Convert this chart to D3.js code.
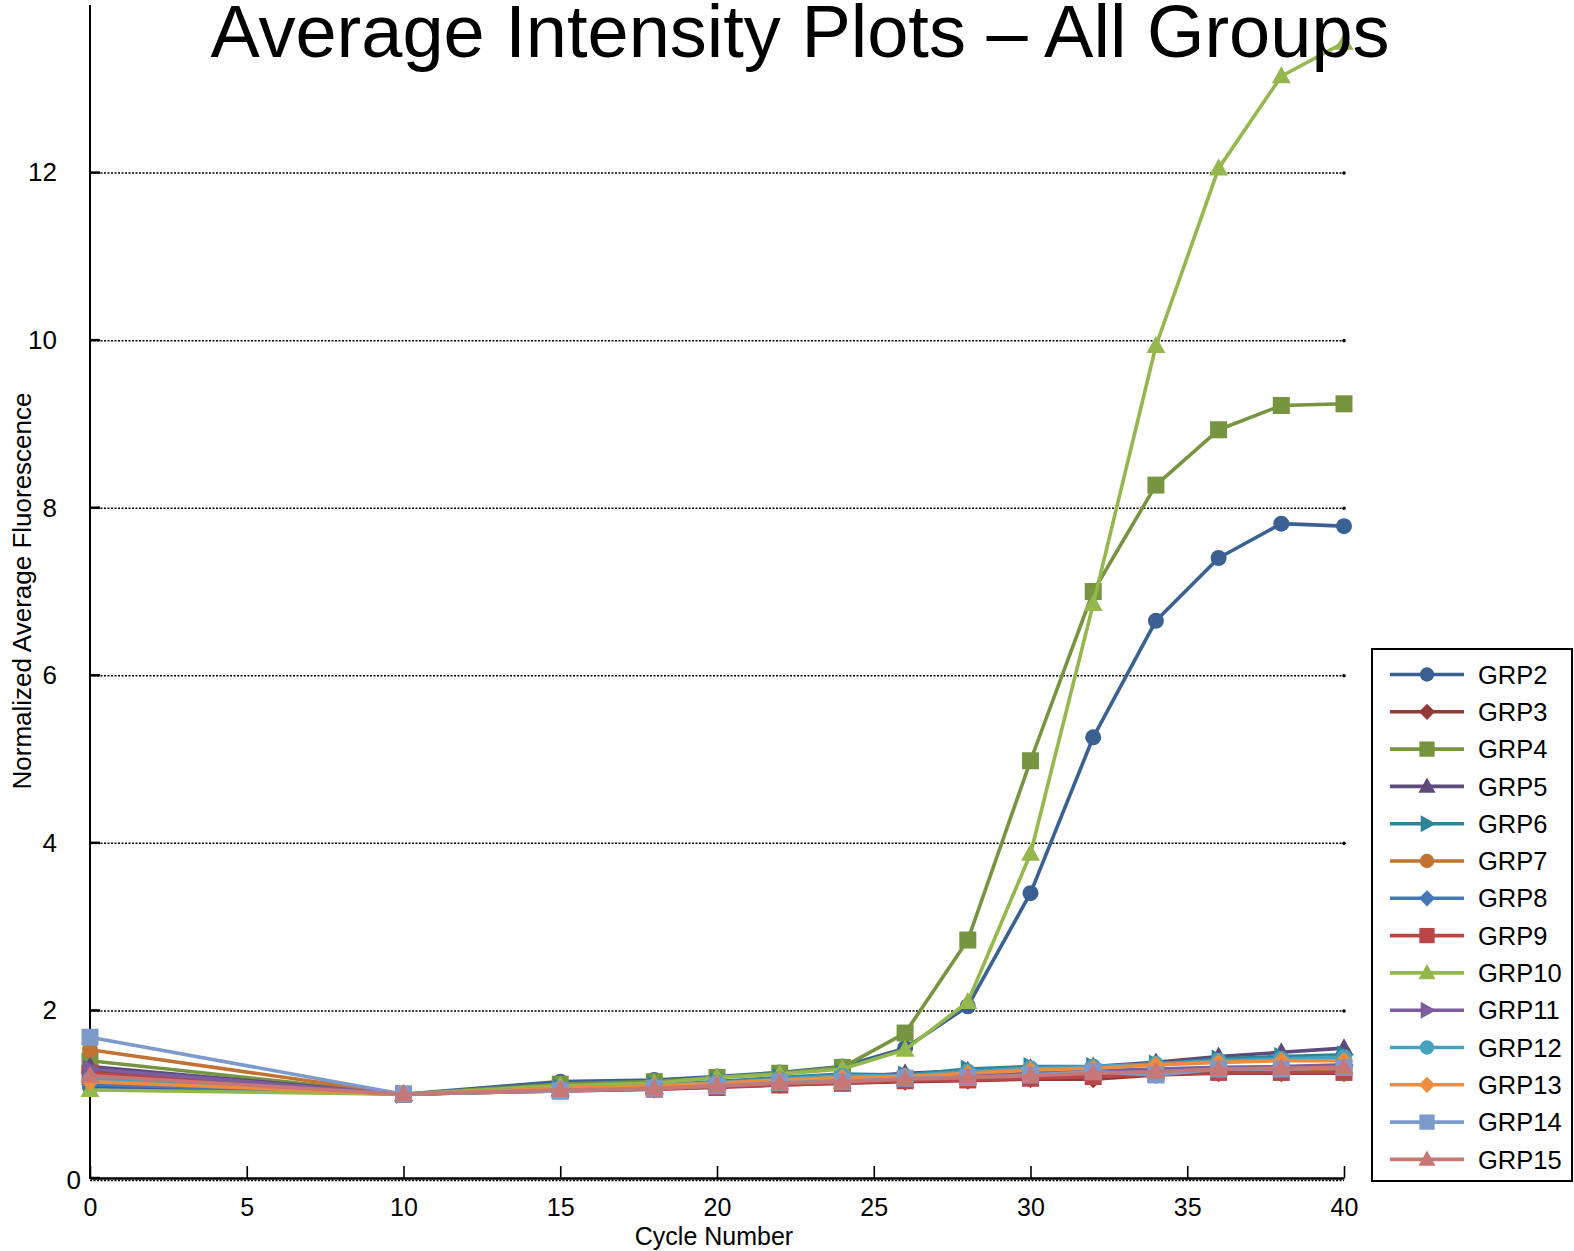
<!DOCTYPE html>
<html>
<head>
<meta charset="utf-8">
<script src="https://cdn.jsdelivr.net/npm/d3@7"></script>
<style>
  html, body { margin: 0; padding: 0; background: #fff; }
  svg { display: block; }
  text { font-family: "Liberation Sans", Arial, sans-serif; fill: #000; }
</style>
</head>
<body>
<svg id="chart" width="1574" height="1251"></svg>
<script>
// Cycle numbers at which the plate was read
const cycles = [0, 10, 15, 18, 20, 22, 24, 26, 28, 30, 32, 34, 36, 38, 40];

// Normalized average fluorescence per group
const grp2  = [1.09, 1.0, 1.15, 1.17, 1.21, 1.26, 1.33, 1.55, 2.05, 3.40, 5.26, 6.65, 7.40, 7.81, 7.78];
const grp3  = [1.28, 1.0, 1.04, 1.06, 1.09, 1.11, 1.13, 1.15, 1.16, 1.18, 1.18, 1.23, 1.25, 1.25, 1.25];
const grp4  = [1.40, 1.0, 1.12, 1.15, 1.20, 1.25, 1.32, 1.73, 2.84, 4.98, 7.00, 8.27, 8.93, 9.22, 9.24];
const grp5  = [1.33, 1.0, 1.06, 1.09, 1.13, 1.17, 1.20, 1.25, 1.28, 1.31, 1.33, 1.38, 1.45, 1.50, 1.55];
const grp6  = [1.18, 1.0, 1.08, 1.11, 1.15, 1.20, 1.24, 1.23, 1.30, 1.33, 1.33, 1.36, 1.42, 1.45, 1.47];
const grp7  = [1.53, 1.0, 1.05, 1.07, 1.10, 1.12, 1.14, 1.16, 1.20, 1.22, 1.24, 1.26, 1.28, 1.29, 1.30];
const grp8  = [1.12, 1.0, 1.05, 1.08, 1.11, 1.14, 1.16, 1.19, 1.21, 1.24, 1.27, 1.28, 1.30, 1.31, 1.33];
const grp9  = [1.25, 1.0, 1.04, 1.06, 1.08, 1.11, 1.13, 1.16, 1.17, 1.19, 1.21, 1.24, 1.26, 1.26, 1.26];
const grp10 = [1.05, 1.0, 1.10, 1.13, 1.20, 1.24, 1.30, 1.53, 2.10, 3.87, 6.85, 9.93, 12.05, 13.15, 13.55];
const grp11 = [1.30, 1.0, 1.05, 1.08, 1.11, 1.14, 1.16, 1.20, 1.22, 1.25, 1.28, 1.30, 1.32, 1.33, 1.35];
const grp12 = [1.18, 1.0, 1.07, 1.10, 1.14, 1.18, 1.22, 1.22, 1.27, 1.31, 1.33, 1.36, 1.40, 1.42, 1.44];
const grp13 = [1.15, 1.0, 1.07, 1.10, 1.13, 1.17, 1.20, 1.21, 1.25, 1.29, 1.31, 1.35, 1.38, 1.40, 1.40];
const grp14 = [1.68, 1.0, 1.04, 1.07, 1.10, 1.14, 1.15, 1.19, 1.20, 1.23, 1.27, 1.23, 1.30, 1.30, 1.32];
const grp15 = [1.22, 1.0, 1.05, 1.07, 1.10, 1.13, 1.15, 1.18, 1.20, 1.22, 1.25, 1.27, 1.30, 1.31, 1.32];

const groupNames = ["GRP2","GRP3","GRP4","GRP5","GRP6","GRP7","GRP8","GRP9","GRP10","GRP11","GRP12","GRP13","GRP14","GRP15"];
const groupValues = [grp2, grp3, grp4, grp5, grp6, grp7, grp8, grp9, grp10, grp11, grp12, grp13, grp14, grp15];
const groupColors = ["#3B6193","#923A37","#779540","#5E4A7D","#2F8598","#C27333","#4677B8","#B9474A",
                     "#94B84E","#7A5E9E","#45A3C0","#EE8C3E","#7C9BCB","#C77775"];
const groupMarkers = ["circle","diamond","square","triangle","right","circle","diamond","square",
                      "triangle","right","circle","diamond","square","triangle"];

const xTicks = [0, 5, 10, 15, 20, 25, 30, 35, 40];
const yTicks = [0, 2, 4, 6, 8, 10, 12];

const svg = d3.select("#chart");
const x = d3.scaleLinear().domain([0, 40]).range([90, 1344]);
const y = d3.scaleLinear().domain([0, 14]).range([1178, 5]);

const tickFont = "Liberation Sans Narrow, Arial Narrow, sans-serif";

// marker shapes, centred on the origin
function markerPath(kind, k = 1) {
  switch (kind) {
    case "circle":   return d3.arc()({innerRadius: 0, outerRadius: 8 * k, startAngle: 0, endAngle: 2 * Math.PI});
    case "square":   { const h = 8.5 * k; return `M${-h},${-h}H${h}V${h}H${-h}Z`; }
    case "diamond":  { const h = 9 * k; return `M0,${-h}L${h},0L0,${h}L${-h},0Z`; }
    case "triangle": return `M0,${-10 * k}L${9.5 * k},${7 * k}L${-9.5 * k},${7 * k}Z`;
    case "right":    return `M${10 * k},0L${-7 * k},${-9.5 * k}L${-7 * k},${9.5 * k}Z`;
  }
}

// dotted gridlines
const grid = svg.append("g");
yTicks.filter(v => v > 0).forEach(v => {
  grid.append("line")
    .attr("x1", x(0)).attr("x2", x(40))
    .attr("y1", y(v) + 0.5).attr("y2", y(v) + 0.5)
    .attr("stroke", "#000").attr("stroke-width", 1.5)
    .attr("stroke-dasharray", "2,1.5");
  grid.append("circle").attr("cx", x(40)).attr("cy", y(v) + 0.5).attr("r", 1.8).attr("fill", "#000");
});
// dotted line under the baseline
grid.append("line")
  .attr("x1", x(0)).attr("x2", x(40))
  .attr("y1", y(0) + 2.5).attr("y2", y(0) + 2.5)
  .attr("stroke", "#000").attr("stroke-width", 1.3)
  .attr("stroke-dasharray", "2,1.5");

// y axis
const yAxis = svg.append("g")
  .attr("transform", `translate(${x(0)},0)`)
  .call(d3.axisLeft(y).tickValues(yTicks).tickSize(0).tickPadding(33).tickFormat(d3.format("d")));
yAxis.select(".domain").remove();
yAxis.selectAll("text").attr("font-size", 26).attr("font-family", tickFont);
yAxis.selectAll(".tick").filter(d => d === 0).select("text").attr("x", -9).attr("dy", "0.4em");
svg.append("line").attr("x1", x(0)).attr("x2", x(0)).attr("y1", y(14)).attr("y2", y(0) + 1)
  .attr("stroke", "#000").attr("stroke-width", 2);
yTicks.forEach(v => {
  svg.append("line").attr("x1", x(0)).attr("x2", x(0) + 10).attr("y1", y(v)).attr("y2", y(v))
    .attr("stroke", "#000").attr("stroke-width", 2.5);
});

// x axis with inward ticks
const xAxis = svg.append("g")
  .attr("transform", `translate(0,${y(0)})`)
  .call(d3.axisBottom(x).tickValues(xTicks).tickSizeInner(-12).tickSizeOuter(0).tickPadding(20).tickFormat(d3.format("d")));
xAxis.select(".domain").attr("stroke-width", 2.5);
xAxis.selectAll(".tick line").attr("stroke-width", 1.6);
xAxis.selectAll("text").attr("font-size", 25).attr("font-family", tickFont);

// series lines and markers
const line = d3.line().x((d, i) => x(cycles[i])).y(d => y(d));
groupValues.forEach((vals, gi) => {
  const g = svg.append("g");
  g.append("path").attr("d", line(vals)).attr("fill", "none")
    .attr("stroke", groupColors[gi]).attr("stroke-width", 3.6).attr("stroke-linejoin", "round");
  g.selectAll("path.m").data(vals).enter().append("path")
    .attr("class", "m")
    .attr("d", markerPath(groupMarkers[gi]))
    .attr("transform", (d, i) => `translate(${x(cycles[i])},${y(d)})`)
    .attr("fill", groupColors[gi]);
});

// title and axis titles
svg.append("text").attr("x", 800).attr("y", 57).attr("text-anchor", "middle")
  .attr("font-size", 74).text("Average Intensity Plots \u2013 All Groups");
svg.append("text").attr("x", 714).attr("y", 1245).attr("text-anchor", "middle")
  .attr("font-size", 25).text("Cycle Number");
svg.append("text").attr("transform", "translate(31,591) rotate(-90)").attr("text-anchor", "middle")
  .attr("font-size", 26).text("Normalized Average Fluorescence");

// legend
const lg = svg.append("g");
lg.append("rect").attr("x", 1372).attr("y", 649).attr("width", 200).attr("height", 532)
  .attr("fill", "#fff").attr("stroke", "#000").attr("stroke-width", 2);
groupNames.forEach((name, gi) => {
  const yy = 674.5 + gi * 37.3;
  lg.append("line").attr("x1", 1390).attr("x2", 1464).attr("y1", yy).attr("y2", yy)
    .attr("stroke", groupColors[gi]).attr("stroke-width", 3.6);
  lg.append("path").attr("d", markerPath(groupMarkers[gi], 0.9))
    .attr("transform", `translate(1427,${yy})`).attr("fill", groupColors[gi]);
  lg.append("text").attr("x", 1478).attr("y", yy).attr("dy", "0.36em")
    .attr("font-size", 25.5).text(name);
});
</script>
</body>
</html>
